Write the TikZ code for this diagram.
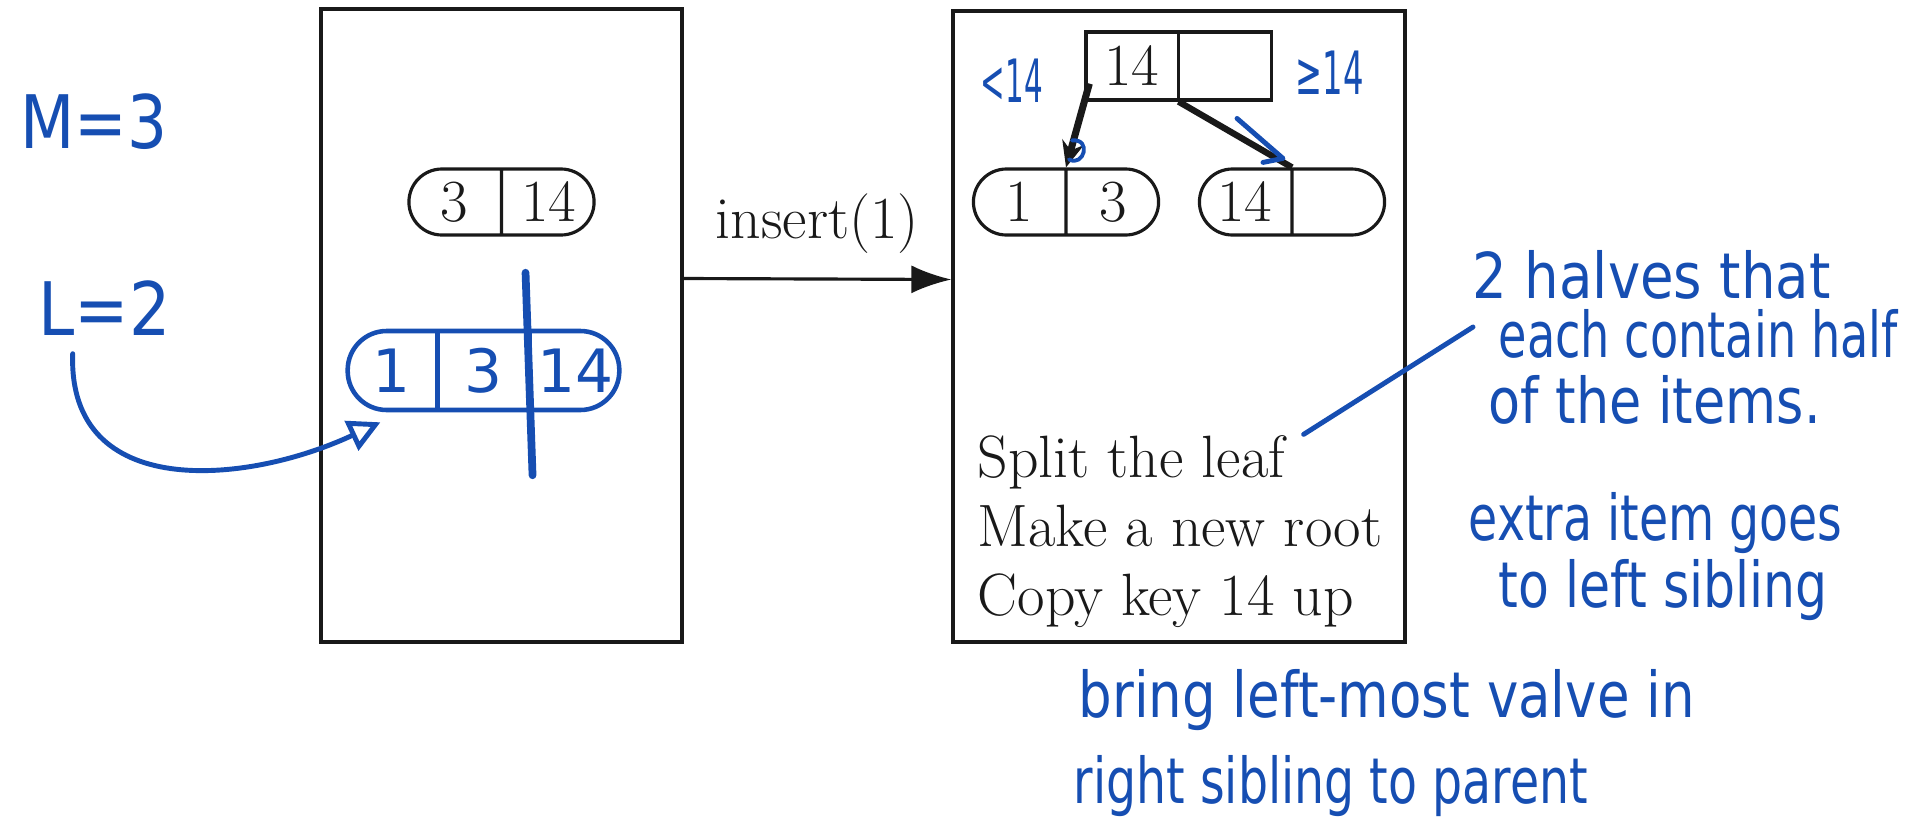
\documentclass[tikz,border=0pt]{standalone}
\usepackage{fontspec}
\usepackage{tikz}
\usetikzlibrary{positioning,arrows.meta,shapes.multipart}
\definecolor{ink}{RGB}{22,78,178}
\definecolor{print}{RGB}{25,25,25}
\newfontfamily\handfont{DejaVu Sans}
\newcommand{\scrawl}[2]{\resizebox{#1}{\height}{#2}}

\begin{document}
\begin{tikzpicture}[
   txt/.style={text=print,font=\fontsize{17}{19.6}\selectfont},
   frame/.style={draw=print,line width=0.9pt,inner sep=0pt},
   keys/.style={draw=print,line width=0.9pt,rectangle split,rectangle split horizontal,
     rectangle split parts=2,rounded corners=3.3mm,inner xsep=0pt,inner ysep=0pt,
     text width=9.1mm,align=center,minimum height=6.6mm,txt},
   rootkeys/.style={keys,sharp corners,minimum height=6.8mm},
   hand/.style={text=ink,inner sep=0pt,font=\handfont\fontsize{18}{18}\selectfont},
   pen/.style={draw=ink,line width=1.4pt,line cap=round,line join=round}]
  \useasboundingbox (0,0) rectangle (19.22,-8.28);
  % before and after
  \node[frame,minimum width=3.61cm,minimum height=6.33cm] (before) at (5.015,-3.255) {};
  \node[frame,minimum width=4.52cm,minimum height=6.31cm] (after) at (11.79,-3.265) {};
  \draw[print,line width=0.9pt,-{Latex[length=4mm,width=2.8mm]}]
     ([yshift=4.7mm]before.east) -- node[txt,midway,above=1.2mm] (op) {insert(1)} ([yshift=4.7mm]after.west);
  % tree nodes
  \node[keys] (old) at (5.015,-2.02) {3\nodepart{two}14};
  \node[rootkeys] (root) at (11.785,-0.66) {14\nodepart{two}\phantom{0}};
  \node[keys] (leafL) at (10.66,-2.02) {1\nodepart{two}3};
  \node[keys] (leafR) at (12.92,-2.02) {14\nodepart{two}\phantom{0}};
  \draw[print,line width=2pt,-{Stealth[length=2.6mm,width=2.2mm]}]
     ([shift={(0.05,0.18)}]root.south west) -- (leafL.one split north);
  \draw[print,line width=1.8pt] (root.one split south) -- (leafR.one split north);
  \node[keys,draw=ink,text=ink,line width=1.3pt,rectangle split parts=3,text width=8.75mm,
     rounded corners=3.9mm,minimum height=7.9mm,font=\handfont\fontsize{17}{17}\selectfont]
     (full) at (4.835,-3.705) {1\nodepart{two}3\nodepart{three}14};
  \draw[pen,line width=2.2pt] ([shift={(-0.04,0.56)}]full.two split north)
     -- ([shift={(0.03,-0.63)}]full.two split south);
  % pen marks on the pointers
  \draw[pen] ([shift={(-0.55,0.49)}]leafR.one split north) -- ([shift={(-0.09,0.09)}]leafR.one split north)
     -- ([shift={(-0.29,0.05)}]leafR.one split north);
  \draw[pen,line width=1.1pt] ([shift={(0.06,0.27)}]leafL.one split north)
     .. controls +(0.2,0.02) and +(0.15,-0.08) .. ([shift={(0.03,0.08)}]leafL.one split north);
  % handwritten notes
  \node[hand,anchor=base west,font=\handfont\fontsize{21}{21}\selectfont] (mval) at (0.20,-1.48) {\scrawl{1.47cm}{M=3}};
  \node[hand,anchor=base west,font=\handfont\fontsize{21}{21}\selectfont] (lval) at (0.38,-3.35) {\scrawl{1.32cm}{L=2}};
  \draw[pen,-{Triangle[open,length=3.2mm,width=3.2mm]}] ([shift={(-0.32,-0.18)}]lval.south)
     to[out=-92,in=205,looseness=1.2] ([shift={(0.35,-0.1)}]full.south west);
  \node[hand,anchor=base west,font=\handfont\fontsize{17}{17}\selectfont] (lt) at (9.80,-1.02) {\scrawl{0.62cm}{<14}};
  \node[hand,anchor=base west,font=\handfont\fontsize{17}{17}\selectfont] (ge) at (12.95,-0.94) {\scrawl{0.68cm}{≥14}};
  \foreach \t [count=\i] in {Split the leaf,Make a new root,Copy key 14 up}
    \node[txt,anchor=base west,inner sep=0pt] (line\i) at (9.77,-4.08-0.69*\i) {\t};
  \node[hand,anchor=base west] (halvesA) at (14.72,-2.98) {\scrawl{3.58cm}{2 halves that}};
  \node[hand,anchor=base west] (halvesB) at (14.98,-3.57) {\scrawl{3.99cm}{each contain half}};
  \node[hand,anchor=base west] (halvesC) at (14.88,-4.23) {\scrawl{3.32cm}{of the items.}};
  \coordinate (halfTip) at (14.73,-3.27);
  \draw[pen] ([xshift=1.8mm]line1.north east) -- (halfTip);
  \node[hand,anchor=base west] (extraA) at (14.68,-5.40) {\scrawl{3.74cm}{extra item goes}};
  \node[hand,anchor=base west] (extraB) at (14.98,-6.07) {\scrawl{3.29cm}{to left sibling}};
  \node[hand,anchor=base west] (bringA) at (10.78,-7.17) {\scrawl{6.16cm}{bring left-most valve in}};
  \node[hand,anchor=base west] (bringB) at (10.73,-8.03) {\scrawl{5.14cm}{right sibling to parent}};
\end{tikzpicture}
\end{document}
